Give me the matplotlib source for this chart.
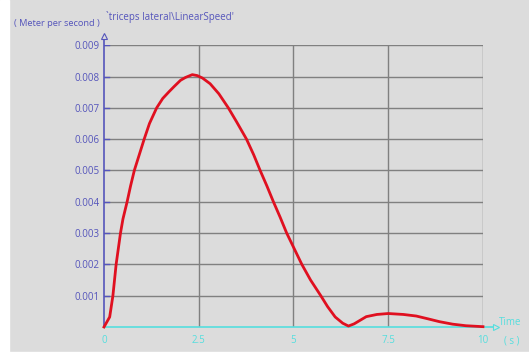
import matplotlib
matplotlib.use("Agg")
import matplotlib.pyplot as plt
from matplotlib.patches import Rectangle

# tiempo (s) y velocidad lineal (m/s)
tiempo = [0, 0.15, 0.235, 0.32, 0.435, 0.5, 0.61, 0.7, 0.8, 0.93, 1.06, 1.2, 1.39,
          1.55, 1.72, 1.85, 2.02, 2.15, 2.33, 2.46, 2.6, 2.8, 3.03, 3.28, 3.5,
          3.76, 3.95, 4.12, 4.3, 4.47, 4.65, 4.82, 5.0, 5.22, 5.45, 5.72, 5.9,
          6.1, 6.3, 6.45, 6.6, 6.92, 7.2, 7.5, 7.9, 8.24, 8.55, 8.85, 9.2, 9.55, 10.0]
velocidad = [0, 0.00032, 0.001, 0.002, 0.003, 0.00345, 0.004, 0.0045, 0.005,
             0.0055, 0.006, 0.0065, 0.007, 0.0073, 0.00752, 0.00768, 0.00788,
             0.00797, 0.00806, 0.00803, 0.00795, 0.00777, 0.00745, 0.007, 0.00655,
             0.006, 0.0055, 0.005, 0.0045, 0.004, 0.0035, 0.003, 0.00255, 0.002,
             0.0015, 0.001, 0.00065, 0.00032, 0.00012, 0.00003, 0.0001, 0.00033,
             0.0004, 0.00043, 0.0004, 0.00035, 0.00026, 0.00017, 0.00009, 0.00004,
             0.00001]

y_ticks = [0.001, 0.002, 0.003, 0.004, 0.005, 0.006, 0.007, 0.008, 0.009]
x_ticks = [0, 2.5, 5, 7.5, 10]
x_etiquetas = ["0", "2.5", "5", "7.5", "10"]

gris_fondo = "#dcdcdc"
azul = "#5555bb"
cian = "#55dede"
rejilla = "#808080"

plt.rcParams["font.family"] = ["Open Sans", "DejaVu Sans"]

fig = plt.figure(figsize=(5.29, 3.56), dpi=100)
fig.patch.set_facecolor(gris_fondo)
fig.patches.append(Rectangle((0, 0), 0.017, 1, transform=fig.transFigure, color="white", zorder=0))
fig.patches.append(Rectangle((0, 0), 1, 0.012, transform=fig.transFigure, color="white", zorder=0))

ax = fig.add_axes([0.1966, 0.0815, 0.7164, 0.7915])
ax.set_facecolor(gris_fondo)
ax.set_xlim(0, 10)
ax.set_ylim(0, 0.009)
for s in ax.spines.values():
    s.set_visible(False)

# rejilla
for y in y_ticks:
    ax.plot([0, 10], [y, y], color=rejilla, linewidth=1.0, zorder=1)
for x in x_ticks[1:]:
    ax.plot([x, x], [0, 0.009], color=rejilla, linewidth=1.0, zorder=1)

# eje y (azul) con flecha
ax.plot([0, 0], [0, 0.0093], color=azul, linewidth=1.2, clip_on=False, zorder=3)
ax.plot([0], [0.0093], marker="^", markersize=5, markerfacecolor=gris_fondo,
        markeredgecolor=azul, markeredgewidth=0.8, clip_on=False, zorder=3)
for y in y_ticks:
    ax.plot([0, 0.12], [y, y], color=azul, linewidth=1.0, zorder=3)

# eje x (cian) con flecha
ax.plot([0, 10.35], [0, 0], color=cian, linewidth=1.2, clip_on=False, zorder=3)
ax.plot([10.35], [0], marker=">", markersize=5, markerfacecolor=gris_fondo,
        markeredgecolor=cian, markeredgewidth=0.8, clip_on=False, zorder=3)

ax.plot(tiempo, velocidad, color="#e01020", linewidth=2.0, zorder=4,
        clip_on=False, solid_joinstyle="round")

ax.set_xticks(x_ticks)
ax.set_xticklabels(x_etiquetas, color=cian, fontsize=7)
ax.set_yticks(y_ticks)
ax.set_yticklabels([f"{v:.3f}" for v in y_ticks], color=azul, fontsize=7)
ax.tick_params(axis="both", length=0, pad=6)
ax.tick_params(axis="y", pad=3)

ax.text(10.42, 0.00015, "Time", color=cian, fontsize=7, ha="left", va="center")
ax.text(10.55, -0.00045, "( s )", color=cian, fontsize=7, ha="left", va="center")
ax.text(-0.1, 0.00968, "( Meter per second )", color=azul, fontsize=6.7, ha="right", va="center")
ax.text(0.05, 0.0099, "`triceps lateral\\LinearSpeed'", color=azul, fontsize=7, ha="left", va="center")

fig.savefig("out.png", dpi=100, facecolor=fig.get_facecolor())
